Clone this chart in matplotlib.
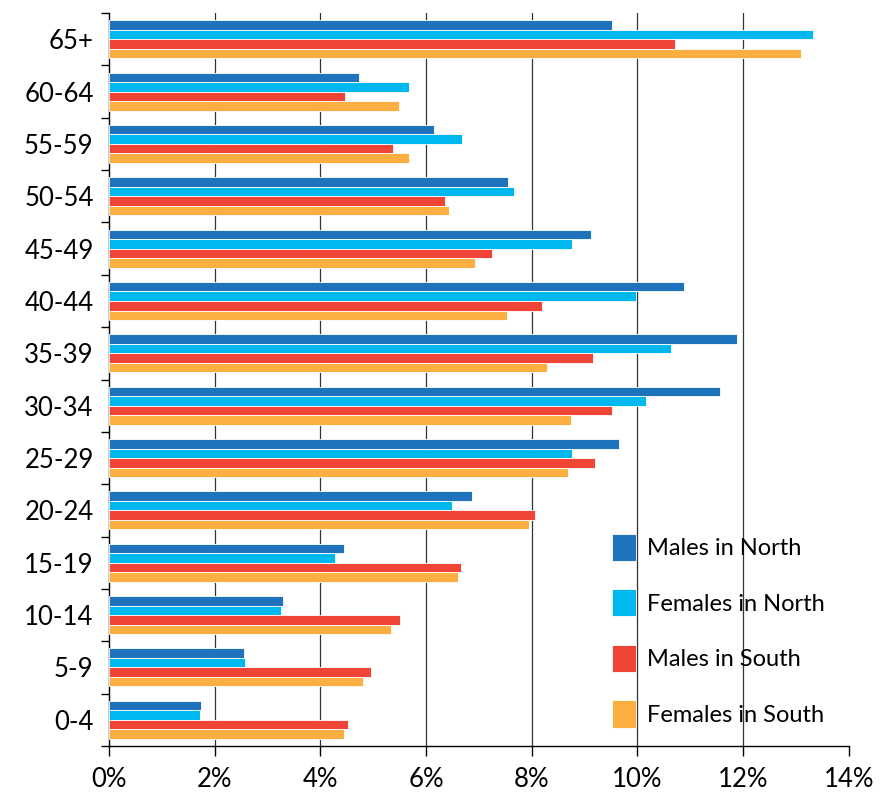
import matplotlib
matplotlib.use("Agg")
import matplotlib.pyplot as plt
import numpy as np
from matplotlib.ticker import FuncFormatter

plt.rcParams['font.family'] = ['Lato', 'DejaVu Sans']

# age groups, bottom to top
ages = ['0-4', '5-9', '10-14', '15-19', '20-24', '25-29', '30-34',
        '35-39', '40-44', '45-49', '50-54', '55-59', '60-64', '65+']

# percentages per series (same order as ages)
males_north = [1.74, 2.56, 3.29, 4.44, 6.87, 9.66, 11.57,
               11.89, 10.88, 9.13, 7.55, 6.16, 4.74, 9.52]
females_north = [1.73, 2.57, 3.26, 4.27, 6.49, 8.76, 10.17,
                 10.64, 9.97, 8.77, 7.67, 6.68, 5.68, 13.33]
males_south = [4.53, 4.95, 5.51, 6.67, 8.06, 9.19, 9.52,
               9.16, 8.20, 7.25, 6.35, 5.38, 4.46, 10.72]
females_south = [4.44, 4.81, 5.34, 6.61, 7.94, 8.68, 8.74,
                 8.28, 7.53, 6.92, 6.44, 5.68, 5.48, 13.09]

series = [
    ('Males in North', males_north, '#1F72BC'),
    ('Females in North', females_north, '#00B8F0'),
    ('Males in South', males_south, '#F04436'),
    ('Females in South', females_south, '#FBAF41'),
]

fig = plt.figure(figsize=(8.86, 7.94), dpi=100)
ax = fig.add_axes([0.123, 0.0605, 0.835, 0.923])

y = np.arange(len(ages))
h = 0.182
offsets = [1.5, 0.5, -0.5, -1.5]
for (name, vals, col), off in zip(series, offsets):
    ax.barh(y + off * h, vals, height=h, color=col, label=name,
            edgecolor='white', linewidth=0.6, zorder=3)

ax.set_xlim(0, 14)
ax.set_ylim(-0.5, len(ages) - 0.5)
ax.set_xticks(np.arange(0, 15, 2))
ax.xaxis.set_major_formatter(FuncFormatter(lambda v, p: f'{v:.0f}%'))

# vertical gridlines (none at 14%)
for gx in np.arange(2, 13, 2):
    ax.axvline(gx, color='#333333', linewidth=0.9, zorder=0)

# ticks at group boundaries, labels at centres
ax.set_yticks(np.arange(-0.5, len(ages), 1))
ax.set_yticklabels([])
ax.set_yticks(y, minor=True)
ax.set_yticklabels(ages, minor=True)
ax.tick_params(axis='y', which='major', direction='out', length=6, width=1)
ax.tick_params(axis='y', which='minor', length=0, pad=11, labelsize=18.5)
ax.tick_params(axis='x', direction='out', length=7, width=1, labelsize=18.5, pad=8)

for s in ['top', 'right']:
    ax.spines[s].set_visible(False)
for s in ['left', 'bottom']:
    ax.spines[s].set_color('black')
    ax.spines[s].set_linewidth(1)

ax.legend(loc='lower left', bbox_to_anchor=(0.68, 0.025), frameon=False,
          fontsize=17, handlelength=1.0, handleheight=1.4,
          labelspacing=1.2, handletextpad=0.5, borderaxespad=0, borderpad=0)

fig.savefig('out.png', dpi=100)
